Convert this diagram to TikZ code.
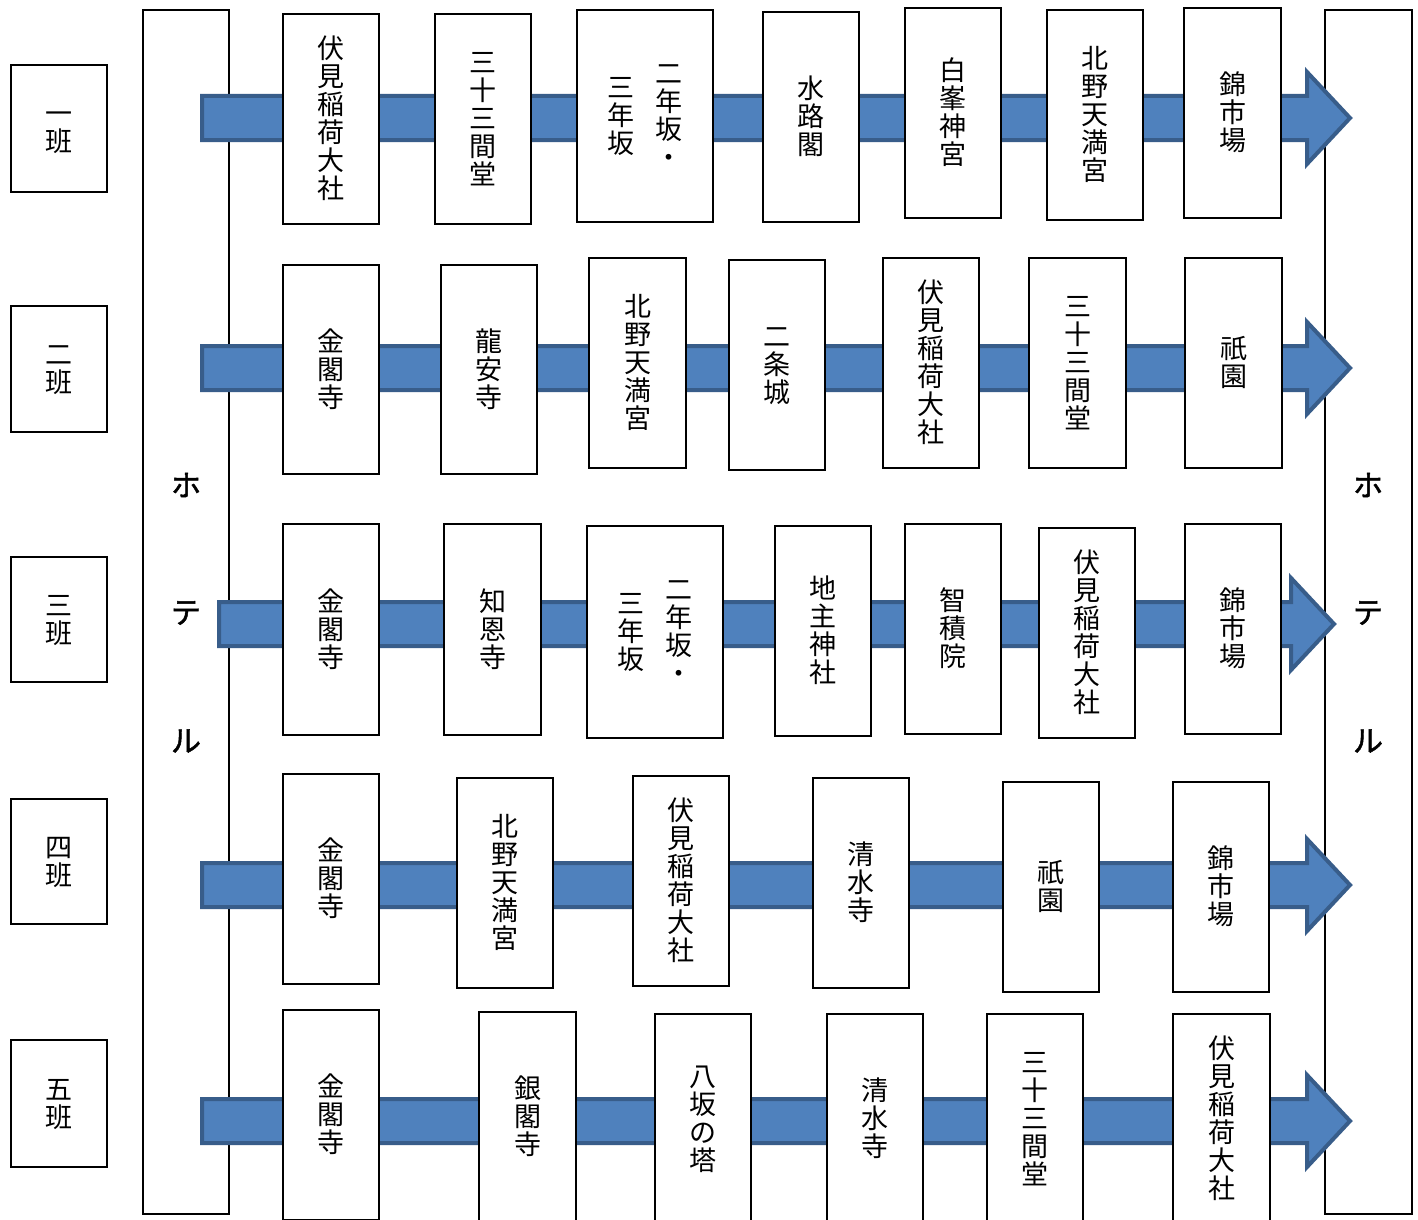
\documentclass[tikz,border=0pt]{standalone}
\usepackage{fontspec}
\newfontfamily\cjk{Noto Sans CJK JP}
\newfontfamily\cjkh[FakeBold=1.6]{Noto Sans CJK JP}
\definecolor{arrowfill}{HTML}{4F81BD}
\definecolor{arrowline}{HTML}{385D8A}
\makeatletter
\newcommand\vstack[1]{\ensuremath{\vcenter{\baselineskip=28pt\lineskiplimit=-100pt\lineskip=0pt\vst@loop#1\relax}}}
\def\vst@loop#1{\ifx#1\relax\else\hbox to 30pt{\hss\vrule height 23.5pt depth 4.5pt width 0pt\relax #1\hss}\expandafter\vst@loop\fi}
\makeatother
\tikzset{
  boxbase/.style={draw=black, line width=2pt, fill=white, inner sep=0pt},
  place/.style={boxbase, font=\cjk\fontsize{27}{28}\selectfont},
  hoteltext/.style={font=\cjkh\fontsize{30}{31}\selectfont, inner sep=0pt},
  blockarrow/.style={fill=arrowfill, draw=arrowline, line width=4pt, line join=miter},
}
% box: name, x1, x2, y1, y2, text
\newcommand\pbox[6]{\node[place, minimum width={#3-#2-2}, minimum height={#5-#4-2}] (#1) at ({(#2+#3)/2},{(#4+#5)/2}) {#6};}
% block arrow: start x, tip x, centre y
\newcommand\barrow[3]{\filldraw[blockarrow] (#1,{#3-22}) -- ({#2-43},{#3-22}) -- ({#2-43},{#3-46}) -- (#2,#3) -- ({#2-43},{#3+46}) -- ({#2-43},{#3+22}) -- (#1,{#3+22}) -- cycle;}
\begin{document}
\begin{tikzpicture}[x=1pt,y=-1pt]
\clip (0,0) rectangle (1418,1220);
\fill[white] (0,0) rectangle (1418,1220);
% hotels
\node[boxbase, minimum width=86, minimum height=1204] (hotelL) at (186,612) {};
\node[boxbase, minimum width=87, minimum height=1204] (hotelR) at (1368.5,612) {};
\node[hoteltext] (hL1) at (186,485) {ホ};
\node[hoteltext] (hL2) at (186,613) {テ};
\node[hoteltext] (hL3) at (186,741) {ル};
\node[hoteltext] (hR1) at (1368,485) {ホ};
\node[hoteltext] (hR2) at (1368,613) {テ};
\node[hoteltext] (hR3) at (1368,741) {ル};
% arrows
\barrow{202}{1350}{118}
\barrow{202}{1350}{368}
\barrow{219}{1334}{624}
\barrow{202}{1350}{885}
\barrow{202}{1350}{1121}
% row 1
\pbox{p11}{282}{380}{13}{225}{\vstack{伏見稲荷大社}}
\pbox{p12}{434}{532}{13}{225}{\vstack{三十三間堂}}
\pbox{p13}{576}{714}{9}{223}{\hbox{\vstack{三年坂}\hskip18pt\vstack{二年坂・}}}
\pbox{p14}{762}{860}{11}{223}{\vstack{水路閣}}
\pbox{p15}{904}{1002}{7}{219}{\vstack{白峯神宮}}
\pbox{p16}{1046}{1144}{9}{221}{\vstack{北野天満宮}}
\pbox{p17}{1183}{1282}{7}{219}{\vstack{錦市場}}
% row 2
\pbox{p21}{282}{380}{264}{475}{\vstack{金閣寺}}
\pbox{p22}{440}{538}{264}{475}{\vstack{龍安寺}}
\pbox{p23}{588}{687}{257}{469}{\vstack{北野天満宮}}
\pbox{p24}{728}{826}{259}{471}{\vstack{二条城}}
\pbox{p25}{882}{980}{257}{469}{\vstack{伏見稲荷大社}}
\pbox{p26}{1028}{1127}{257}{469}{\vstack{三十三間堂}}
\pbox{p27}{1184}{1283}{257}{469}{\vstack{祇園}}
% row 3
\pbox{p31}{282}{380}{523}{736}{\vstack{金閣寺}}
\pbox{p32}{443}{542}{523}{736}{\vstack{知恩寺}}
\pbox{p33}{586}{724}{525}{739}{\hbox{\vstack{三年坂}\hskip18pt\vstack{二年坂・}}}
\pbox{p34}{774}{872}{525}{737}{\vstack{地主神社}}
\pbox{p35}{904}{1002}{523}{735}{\vstack{智積院}}
\pbox{p36}{1038}{1136}{527}{739}{\vstack{伏見稲荷大社}}
\pbox{p37}{1184}{1282}{523}{735}{\vstack{錦市場}}
% row 4
\pbox{p41}{282}{380}{773}{985}{\vstack{金閣寺}}
\pbox{p42}{456}{554}{777}{989}{\vstack{北野天満宮}}
\pbox{p43}{632}{730}{775}{987}{\vstack{伏見稲荷大社}}
\pbox{p44}{812}{910}{777}{989}{\vstack{清水寺}}
\pbox{p45}{1002}{1100}{781}{993}{\vstack{祇園}}
\pbox{p46}{1172}{1270}{781}{993}{\vstack{錦市場}}
% row 5
\pbox{p51}{282}{380}{1009}{1221}{\vstack{金閣寺}}
\pbox{p52}{478}{577}{1011}{1223}{\vstack{銀閣寺}}
\pbox{p53}{654}{752}{1013}{1225}{\vstack{八坂の塔}}
\pbox{p54}{826}{924}{1013}{1225}{\vstack{清水寺}}
\pbox{p55}{986}{1084}{1013}{1225}{\vstack{三十三間堂}}
\pbox{p56}{1172}{1271}{1013}{1225}{\vstack{伏見稲荷大社}}
% groups
\pbox{g1}{10}{108}{64}{193}{\vstack{一班}}
\pbox{g2}{10}{108}{305}{433}{\vstack{二班}}
\pbox{g3}{10}{108}{556}{683}{\vstack{三班}}
\pbox{g4}{10}{108}{798}{925}{\vstack{四班}}
\pbox{g5}{10}{108}{1039}{1168}{\vstack{五班}}
\end{tikzpicture}
\end{document}
